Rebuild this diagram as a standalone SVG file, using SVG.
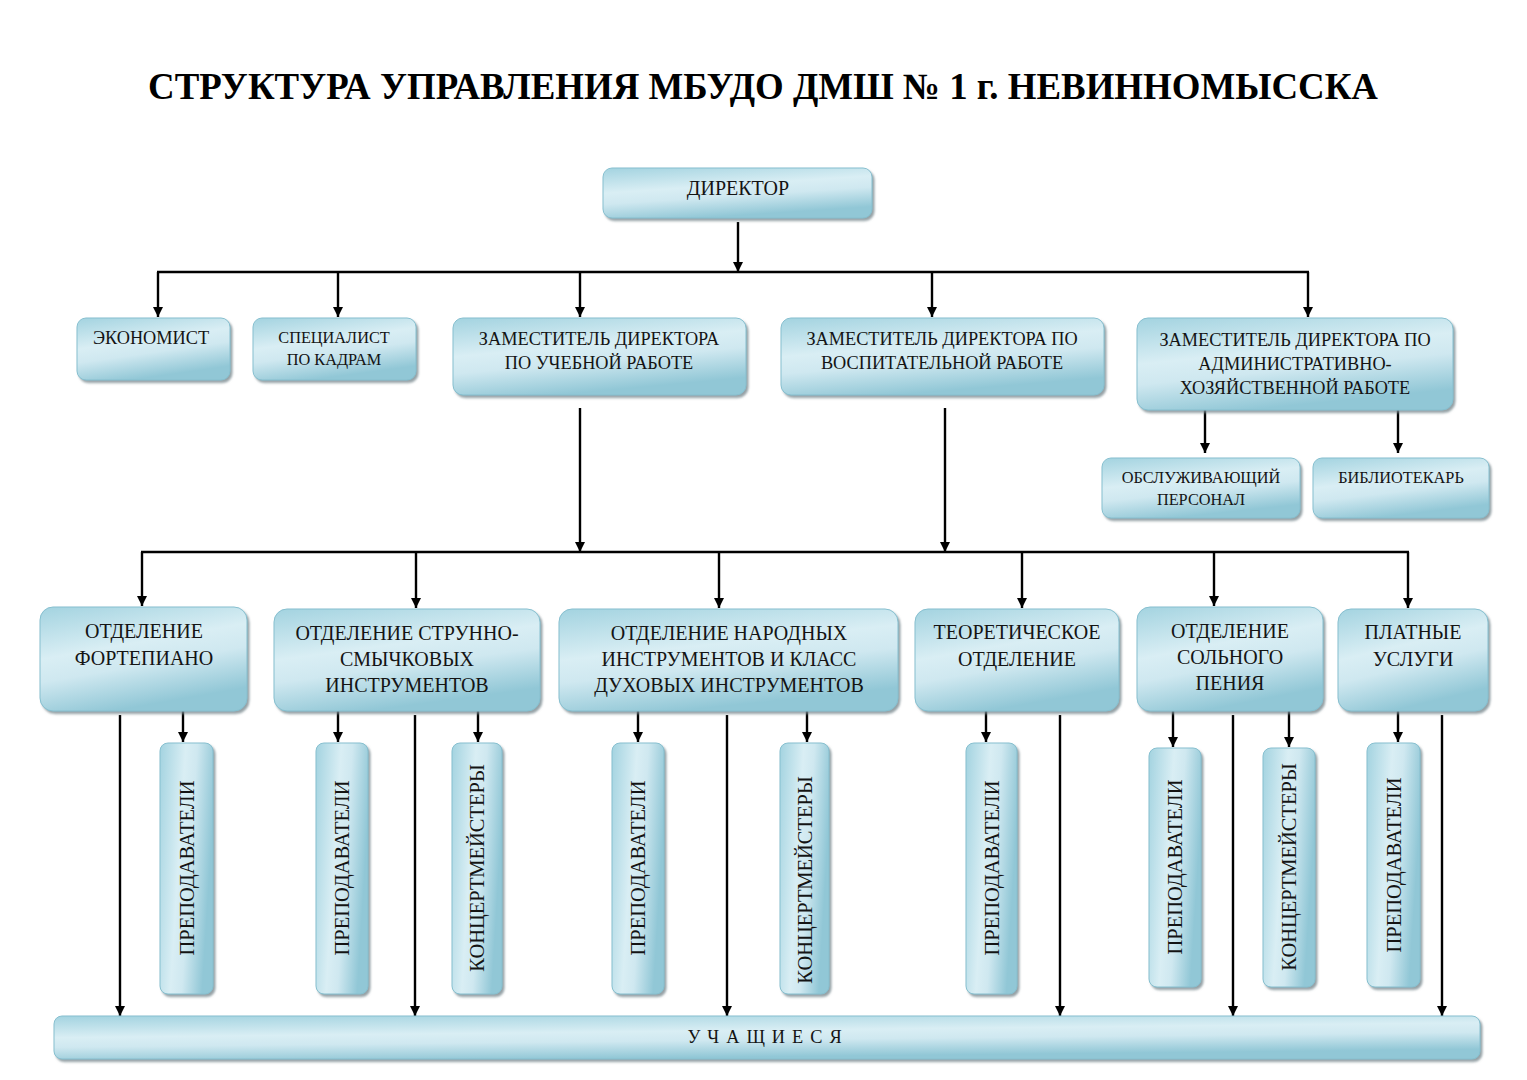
<svg xmlns="http://www.w3.org/2000/svg" width="1527" height="1080" viewBox="0 0 1527 1080">
<defs>
<linearGradient id="g" x1="0" y1="0" x2="0.35" y2="1">
<stop offset="0" stop-color="#a3d3e0"/>
<stop offset="0.45" stop-color="#d9eef4"/>
<stop offset="0.65" stop-color="#cfe8f0"/>
<stop offset="1" stop-color="#91c7d6"/>
</linearGradient>
<linearGradient id="gv" x1="0" y1="0" x2="1" y2="0.3">
<stop offset="0" stop-color="#a3d3e0"/>
<stop offset="0.45" stop-color="#d9eef4"/>
<stop offset="0.65" stop-color="#cfe8f0"/>
<stop offset="1" stop-color="#91c7d6"/>
</linearGradient>
<filter id="sh" x="-10%" y="-10%" width="130%" height="130%">
<feDropShadow dx="2" dy="2.5" stdDeviation="1.2" flood-color="#7a8a90" flood-opacity="0.8"/>
</filter>
<marker id="ah" viewBox="0 0 10 10" refX="10" refY="5" markerWidth="4.2" markerHeight="4.2" markerUnits="strokeWidth" orient="auto">
<path d="M0,0 L10,5 L0,10 z" fill="#000"/>
</marker>
</defs>
<style>
.b{fill:url(#g);stroke:#86bfcf;stroke-width:1;filter:url(#sh)}
.v{fill:url(#gv);stroke:#86bfcf;stroke-width:1;filter:url(#sh)}
text{font-family:"Liberation Serif","Times New Roman",serif;fill:#141414;text-anchor:middle}
.t0{font-size:20px}
.t1{font-size:18.3px}
.t3{font-size:16.3px}
.t2{font-size:20px}
.tv{font-size:20.5px}
.ttl{font-size:37px;font-weight:bold;fill:#000}
.c line,.c path{stroke:#000;stroke-width:2.4;fill:none}
.c .a{marker-end:url(#ah)}
</style>
<rect width="1527" height="1080" fill="#fff"/>
<text class="ttl" x="763" y="99" textLength="1230" lengthAdjust="spacingAndGlyphs">СТРУКТУРА УПРАВЛЕНИЯ МБУДО ДМШ № 1 г. НЕВИННОМЫССКА</text>

<g class="c">
<line class="a" x1="738" y1="222" x2="738" y2="272"/>
<line x1="157" y1="272" x2="1309" y2="272"/>
<line class="a" x1="158" y1="272" x2="158" y2="317"/>
<line class="a" x1="338" y1="272" x2="338" y2="317"/>
<line class="a" x1="580" y1="272" x2="580" y2="317"/>
<line class="a" x1="932" y1="272" x2="932" y2="317"/>
<line class="a" x1="1308" y1="272" x2="1308" y2="317"/>
<line class="a" x1="1205" y1="410" x2="1205" y2="453"/>
<line class="a" x1="1398" y1="410" x2="1398" y2="453"/>
<line class="a" x1="580" y1="408" x2="580" y2="552"/>
<line class="a" x1="945" y1="408" x2="945" y2="552"/>
<line x1="141" y1="552" x2="1409" y2="552"/>
<line class="a" x1="142" y1="552" x2="142" y2="606"/>
<line class="a" x1="416" y1="552" x2="416" y2="608"/>
<line class="a" x1="719" y1="552" x2="719" y2="608"/>
<line class="a" x1="1022" y1="552" x2="1022" y2="608"/>
<line class="a" x1="1214" y1="552" x2="1214" y2="606"/>
<line class="a" x1="1408" y1="552" x2="1408" y2="608"/>
<line class="a" x1="183" y1="711" x2="183" y2="742"/>
<line class="a" x1="338" y1="711" x2="338" y2="742"/>
<line class="a" x1="478" y1="711" x2="478" y2="742"/>
<line class="a" x1="638" y1="711" x2="638" y2="742"/>
<line class="a" x1="807" y1="711" x2="807" y2="742"/>
<line class="a" x1="986" y1="711" x2="986" y2="742"/>
<line class="a" x1="1173" y1="711" x2="1173" y2="747"/>
<line class="a" x1="1289" y1="711" x2="1289" y2="747"/>
<line class="a" x1="1398" y1="711" x2="1398" y2="742"/>
<line class="a" x1="120" y1="715" x2="120" y2="1016"/>
<line class="a" x1="415" y1="715" x2="415" y2="1016"/>
<line class="a" x1="727" y1="715" x2="727" y2="1016"/>
<line class="a" x1="1060" y1="715" x2="1060" y2="1016"/>
<line class="a" x1="1233" y1="715" x2="1233" y2="1016"/>
<line class="a" x1="1442" y1="715" x2="1442" y2="1016"/>
</g>

<g id="director"><rect class="b" x="603" y="168" width="269" height="50" rx="9"/><text class="t0" x="738" y="195">ДИРЕКТОР</text></g>
<g id="economist"><rect class="b" x="77" y="318" width="153" height="62" rx="9"/><text class="t1" x="151" y="344">ЭКОНОМИСТ</text></g>
<g id="hr"><rect class="b" x="253" y="318" width="163" height="62" rx="9"/><text class="t3" x="334" y="343">СПЕЦИАЛИСТ</text><text class="t3" x="334" y="365">ПО КАДРАМ</text></g>
<g id="dep-edu"><rect class="b" x="453" y="318" width="293" height="77" rx="10"/><text class="t1" x="599" y="345">ЗАМЕСТИТЕЛЬ ДИРЕКТОРА</text><text class="t1" x="599" y="369">ПО УЧЕБНОЙ РАБОТЕ</text></g>
<g id="dep-vosp"><rect class="b" x="781" y="318" width="323" height="77" rx="10"/><text class="t1" x="942" y="345">ЗАМЕСТИТЕЛЬ ДИРЕКТОРА ПО</text><text class="t1" x="942" y="369">ВОСПИТАТЕЛЬНОЙ РАБОТЕ</text></g>
<g id="dep-ahr"><rect class="b" x="1137" y="318" width="316" height="92" rx="11"/><text class="t1" x="1295" y="346">ЗАМЕСТИТЕЛЬ ДИРЕКТОРА ПО</text><text class="t1" x="1295" y="370">АДМИНИСТРАТИВНО-</text><text class="t1" x="1295" y="394">ХОЗЯЙСТВЕННОЙ РАБОТЕ</text></g>
<g id="service"><rect class="b" x="1102" y="458" width="198" height="60" rx="9"/><text class="t3" x="1201" y="483">ОБСЛУЖИВАЮЩИЙ</text><text class="t3" x="1201" y="505">ПЕРСОНАЛ</text></g>
<g id="library"><rect class="b" x="1313" y="458" width="176" height="60" rx="9"/><text class="t3" x="1401" y="483">БИБЛИОТЕКАРЬ</text></g>

<g id="piano"><rect class="b" x="40" y="607" width="207" height="104" rx="13"/><text class="t2" x="144" y="638">ОТДЕЛЕНИЕ</text><text class="t2" x="144" y="665">ФОРТЕПИАНО</text></g>
<g id="strings"><rect class="b" x="274" y="609" width="266" height="102" rx="13"/><text class="t2" x="407" y="640">ОТДЕЛЕНИЕ СТРУННО-</text><text class="t2" x="407" y="666">СМЫЧКОВЫХ</text><text class="t2" x="407" y="692">ИНСТРУМЕНТОВ</text></g>
<g id="folk"><rect class="b" x="559" y="609" width="339" height="102" rx="13"/><text class="t2" x="729" y="640">ОТДЕЛЕНИЕ НАРОДНЫХ</text><text class="t2" x="729" y="666">ИНСТРУМЕНТОВ И КЛАСС</text><text class="t2" x="729" y="692">ДУХОВЫХ ИНСТРУМЕНТОВ</text></g>
<g id="theory"><rect class="b" x="915" y="609" width="204" height="102" rx="13"/><text class="t2" x="1017" y="639">ТЕОРЕТИЧЕСКОЕ</text><text class="t2" x="1017" y="666">ОТДЕЛЕНИЕ</text></g>
<g id="vocal"><rect class="b" x="1137" y="607" width="186" height="104" rx="13"/><text class="t2" x="1230" y="638">ОТДЕЛЕНИЕ</text><text class="t2" x="1230" y="664">СОЛЬНОГО</text><text class="t2" x="1230" y="690">ПЕНИЯ</text></g>
<g id="paid"><rect class="b" x="1338" y="609" width="150" height="102" rx="13"/><text class="t2" x="1413" y="639">ПЛАТНЫЕ</text><text class="t2" x="1413" y="666">УСЛУГИ</text></g>

<g id="teach1"><rect class="v" x="160" y="743" width="53" height="251" rx="8"/><text class="tv" transform="translate(193.5,868) rotate(-90)">ПРЕПОДАВАТЕЛИ</text></g>
<g id="teach2"><rect class="v" x="316" y="743" width="52" height="251" rx="8"/><text class="tv" transform="translate(349,868) rotate(-90)">ПРЕПОДАВАТЕЛИ</text></g>
<g id="accomp1"><rect class="v" x="452" y="743" width="50" height="251" rx="8"/><text class="tv" transform="translate(484,868) rotate(-90)">КОНЦЕРТМЕЙСТЕРЫ</text></g>
<g id="teach3"><rect class="v" x="612" y="743" width="52" height="251" rx="8"/><text class="tv" transform="translate(645,868) rotate(-90)">ПРЕПОДАВАТЕЛИ</text></g>
<g id="accomp2"><rect class="v" x="780" y="743" width="49" height="251" rx="8"/><text class="tv" transform="translate(811.5,880) rotate(-90)">КОНЦЕРТМЕЙСТЕРЫ</text></g>
<g id="teach4"><rect class="v" x="966" y="743" width="51" height="251" rx="8"/><text class="tv" transform="translate(998.5,868) rotate(-90)">ПРЕПОДАВАТЕЛИ</text></g>
<g id="teach5"><rect class="v" x="1149" y="748" width="52" height="239" rx="8"/><text class="tv" transform="translate(1182,867) rotate(-90)">ПРЕПОДАВАТЕЛИ</text></g>
<g id="accomp3"><rect class="v" x="1263" y="748" width="52" height="239" rx="8"/><text class="tv" transform="translate(1296,867) rotate(-90)">КОНЦЕРТМЕЙСТЕРЫ</text></g>
<g id="teach6"><rect class="v" x="1367" y="743" width="53" height="244" rx="8"/><text class="tv" transform="translate(1400.5,865) rotate(-90)">ПРЕПОДАВАТЕЛИ</text></g>

<g id="students"><rect class="b" x="54" y="1016" width="1426" height="43" rx="8"/><text class="t1" x="768" y="1043" letter-spacing="7">УЧАЩИЕСЯ</text></g>
</svg>
